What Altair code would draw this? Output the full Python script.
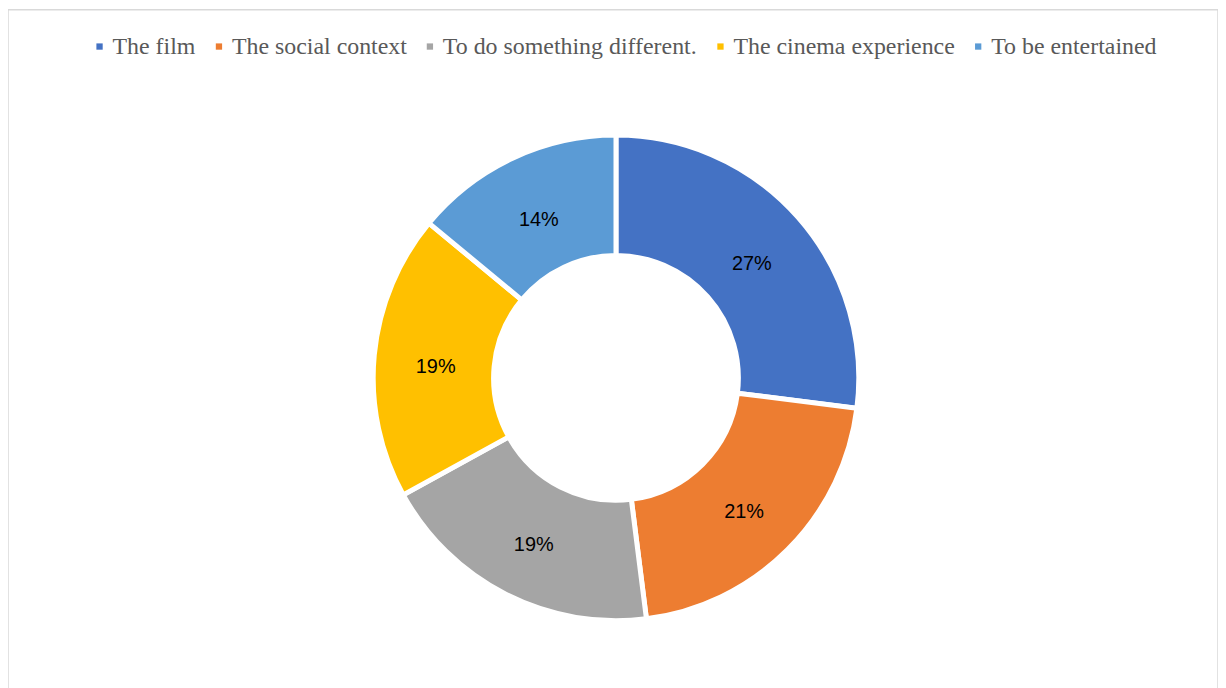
import altair as alt
import pandas as pd

categories = ["The film", "The social context", "To do something different.",
              "The cinema experience", "To be entertained"]
values = [27, 21, 19, 19, 14]
labels = ["27%", "21%", "19%", "19%", "14%"]
colors = ["#4472C4", "#ED7D31", "#A5A5A5", "#FFC000", "#5B9BD5"]

df = pd.DataFrame({"cat": categories, "val": values, "label": labels,
                   "idx": list(range(len(categories)))})

CX, CY = 611, 370

theta = alt.Theta("val:Q", stack=True)
order = alt.Order("idx:Q", sort="ascending")

arcs = alt.Chart(df).mark_arc(radius=244, radius2=123, stroke="white",
                              strokeWidth=5).encode(
    theta=theta,
    order=order,
    x=alt.value(CX), y=alt.value(CY),
    color=alt.Color("cat:N", sort=categories,
                    scale=alt.Scale(domain=categories, range=colors),
                    legend=alt.Legend(
                        title=None, orient="none", direction="horizontal",
                        legendX=80, legendY=25, columns=5,
                        symbolType="square", symbolSize=40,
                        symbolStrokeWidth=0,
                        labelFont="Liberation Serif", labelFontSize=24,
                        labelColor="#595959", labelOffset=1,
                        columnPadding=11, padding=0,
                        labelLimit=400)),
)

text = alt.Chart(df).mark_text(radius=182, font="Liberation Sans",
                               fontSize=20, color="#000000").encode(
    theta=theta,
    order=order,
    x=alt.value(CX), y=alt.value(CY + 6),
    text="label:N",
)

chart = (arcs + text).properties(
    width=1216, height=700, padding=0
).configure_view(stroke="#d9d9d9", strokeWidth=1.5)

chart.save("out.html", embed_options={"renderer": "svg", "actions": False})
